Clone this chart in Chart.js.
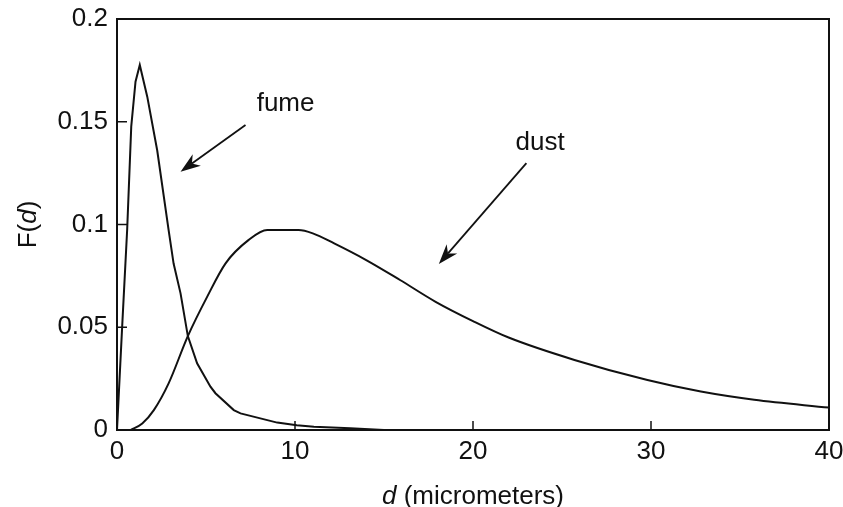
<!DOCTYPE html>
<html>
<head>
<meta charset="utf-8">
<script src="https://cdn.jsdelivr.net/npm/chart.js@4.4.1/dist/chart.umd.min.js"></script>
<style>
html,body{margin:0;padding:0;background:#ffffff;}
#wrap{width:843px;height:507px;position:relative;}
</style>
</head>
<body>
<div id="wrap"><canvas id="c"></canvas></div>
<script>
// ---- data ----
const fumeD = [0, 0.29, 0.57, 0.8, 1.04, 1.28, 1.7, 2.26, 2.9, 3.18, 3.57, 3.98, 4.5, 5.25, 5.53, 6.56, 6.94, 9.0, 10.1, 11.06, 13.1, 15, 40];
const fumeF = [0, 0.0503, 0.0973, 0.1476, 0.1695, 0.1776, 0.1622, 0.136, 0.0973, 0.081, 0.0665, 0.0457, 0.0325, 0.0211, 0.0179, 0.0097, 0.0081, 0.0036, 0.0023, 0.0016, 0.0008, 0, 0];
const dustD = [0.76, 1.42, 2.07, 2.9, 3.98, 5.07, 6.1, 7.4, 8.44, 10.2, 11.0, 12.2, 14.0, 15.9, 17.9, 20.0, 22.0, 25.7, 29.8, 32.8, 35.8, 40];
const dustF = [0, 0.0032, 0.0097, 0.0227, 0.0457, 0.0649, 0.0811, 0.0925, 0.0973, 0.0973, 0.0957, 0.0908, 0.0827, 0.073, 0.0624, 0.0530, 0.0450, 0.0341, 0.0243, 0.0187, 0.0147, 0.0109];

const xTickValues = [0, 10, 20, 30, 40];
const xTickLabels = ['0', '10', '20', '30', '40'];
const yTickValues = [0, 0.05, 0.1, 0.15, 0.2];
const yTickLabels = ['0', '0.05', '0.1', '0.15', '0.2'];

// axis titles: [text, italic]
const xTitleParts = [['d', true], [' (micrometers)', false]];
const yTitleParts = [['F(', false], ['d', true], [')', false]];

// annotations (in data units)
const noteTexts = ['fume', 'dust'];
const noteD = [9.47, 23.77];
const noteF = [0.1552, 0.1363];
const arrowFromD = [7.22, 23.0];
const arrowFromF = [0.1484, 0.1299];
const arrowToD = [3.57, 18.08];
const arrowToF = [0.1257, 0.0808];

// ---- rendering ----
const FONT = '"Liberation Sans", Arial, Helvetica, sans-serif';
const INK = '#111111';

function pts(xs, ys) { return xs.map((x, i) => ({x: x, y: ys[i]})); }

function drawParts(ctx, parts, size) {
  let total = 0;
  const widths = parts.map(p => {
    ctx.font = (p[1] ? 'italic ' : '') + size + 'px ' + FONT;
    const w = ctx.measureText(p[0]).width; total += w; return w;
  });
  let x = -total / 2;
  parts.forEach((p, i) => {
    ctx.font = (p[1] ? 'italic ' : '') + size + 'px ' + FONT;
    ctx.fillText(p[0], x, 0);
    x += widths[i];
  });
}

function arrow(ctx, x1, y1, x2, y2) {
  const ang = Math.atan2(y2 - y1, x2 - x1);
  const L = 20, W = 7, N = 14;
  const ca = Math.cos(ang), sa = Math.sin(ang);
  const bx = x2 - L * ca, by = y2 - L * sa;
  const nx = x2 - N * ca, ny = y2 - N * sa;
  ctx.beginPath();
  ctx.moveTo(x1, y1);
  ctx.lineTo(nx, ny);
  ctx.stroke();
  ctx.beginPath();
  ctx.moveTo(x2, y2);
  ctx.lineTo(bx - W * sa, by + W * ca);
  ctx.lineTo(nx, ny);
  ctx.lineTo(bx + W * sa, by - W * ca);
  ctx.closePath();
  ctx.fill();
}

const decor = {
  id: 'decor',
  afterDraw(chart) {
    const ctx = chart.ctx;
    const xs = chart.scales.x, ys = chart.scales.y;
    const a = chart.chartArea;
    ctx.save();
    ctx.strokeStyle = INK; ctx.fillStyle = INK;
    // frame
    ctx.lineWidth = 2;
    ctx.strokeRect(a.left, a.top, a.right - a.left, a.bottom - a.top);
    // inward ticks
    ctx.lineWidth = 1.5;
    xTickValues.forEach(v => {
      const px = xs.getPixelForValue(v);
      ctx.beginPath(); ctx.moveTo(px, a.bottom); ctx.lineTo(px, a.bottom - 9); ctx.stroke();
    });
    yTickValues.forEach(v => {
      const py = ys.getPixelForValue(v);
      ctx.beginPath(); ctx.moveTo(a.left, py); ctx.lineTo(a.left + 10, py); ctx.stroke();
    });
    // axis titles
    ctx.textBaseline = 'alphabetic';
    ctx.textAlign = 'left';
    ctx.save();
    ctx.translate((a.left + a.right) / 2, 504);
    drawParts(ctx, xTitleParts, 26);
    ctx.restore();
    ctx.save();
    ctx.translate(36, (a.top + a.bottom) / 2);
    ctx.rotate(-Math.PI / 2);
    drawParts(ctx, yTitleParts, 26);
    ctx.restore();
    // annotations
    ctx.font = '26px ' + FONT;
    ctx.textAlign = 'center';
    noteTexts.forEach((t, i) => {
      ctx.fillText(t, xs.getPixelForValue(noteD[i]), ys.getPixelForValue(noteF[i]));
    });
    ctx.lineWidth = 1.8;
    arrowFromD.forEach((d, i) => {
      arrow(ctx, xs.getPixelForValue(d), ys.getPixelForValue(arrowFromF[i]),
        xs.getPixelForValue(arrowToD[i]), ys.getPixelForValue(arrowToF[i]));
    });
    ctx.restore();
  }
};

const bg = {
  id: 'bg',
  beforeDraw(chart) {
    const ctx = chart.ctx;
    ctx.save(); ctx.fillStyle = '#ffffff'; ctx.fillRect(0, 0, chart.width, chart.height); ctx.restore();
  }
};

new Chart(document.getElementById('c'), {
  type: 'line',
  data: {
    datasets: [
      {label: 'fume', data: pts(fumeD, fumeF), borderColor: INK, borderWidth: 2, pointRadius: 0, tension: 0, fill: false},
      {label: 'dust', data: pts(dustD, dustF), borderColor: INK, borderWidth: 2, pointRadius: 0, cubicInterpolationMode: 'monotone', fill: false}
    ]
  },
  options: {
    responsive: true,
    maintainAspectRatio: false,
    animation: false,
    devicePixelRatio: 1,
    layout: {padding: {top: 19, right: 14, left: 0, bottom: 0}},
    plugins: {legend: {display: false}, tooltip: {enabled: false}},
    scales: {
      x: {
        type: 'linear', min: 0, max: 40, position: 'bottom',
        grid: {display: false, drawTicks: false},
        border: {display: false},
        afterBuildTicks(s) { s.ticks = xTickValues.map(v => ({value: v})); },
        afterFit(s) { s.height = 77; s.paddingLeft = 0; s.paddingRight = 0; },
        ticks: {
          maxRotation: 0, padding: 6, color: INK,
          font: {family: FONT, size: 26},
          callback(v) { const i = xTickValues.indexOf(v); return i >= 0 ? xTickLabels[i] : ''; }
        }
      },
      y: {
        type: 'linear', min: 0, max: 0.2, position: 'left',
        grid: {display: false, drawTicks: false},
        border: {display: false},
        afterBuildTicks(s) { s.ticks = yTickValues.map(v => ({value: v})); },
        afterFit(s) { s.width = 117; s.paddingTop = 0; s.paddingBottom = 0; },
        ticks: {
          padding: 9, color: INK,
          font: {family: FONT, size: 26},
          callback(v) { const i = yTickValues.findIndex(t => Math.abs(t - v) < 1e-9); return i >= 0 ? yTickLabels[i] : ''; }
        }
      }
    }
  },
  plugins: [bg, decor]
});
</script>
</body>
</html>
